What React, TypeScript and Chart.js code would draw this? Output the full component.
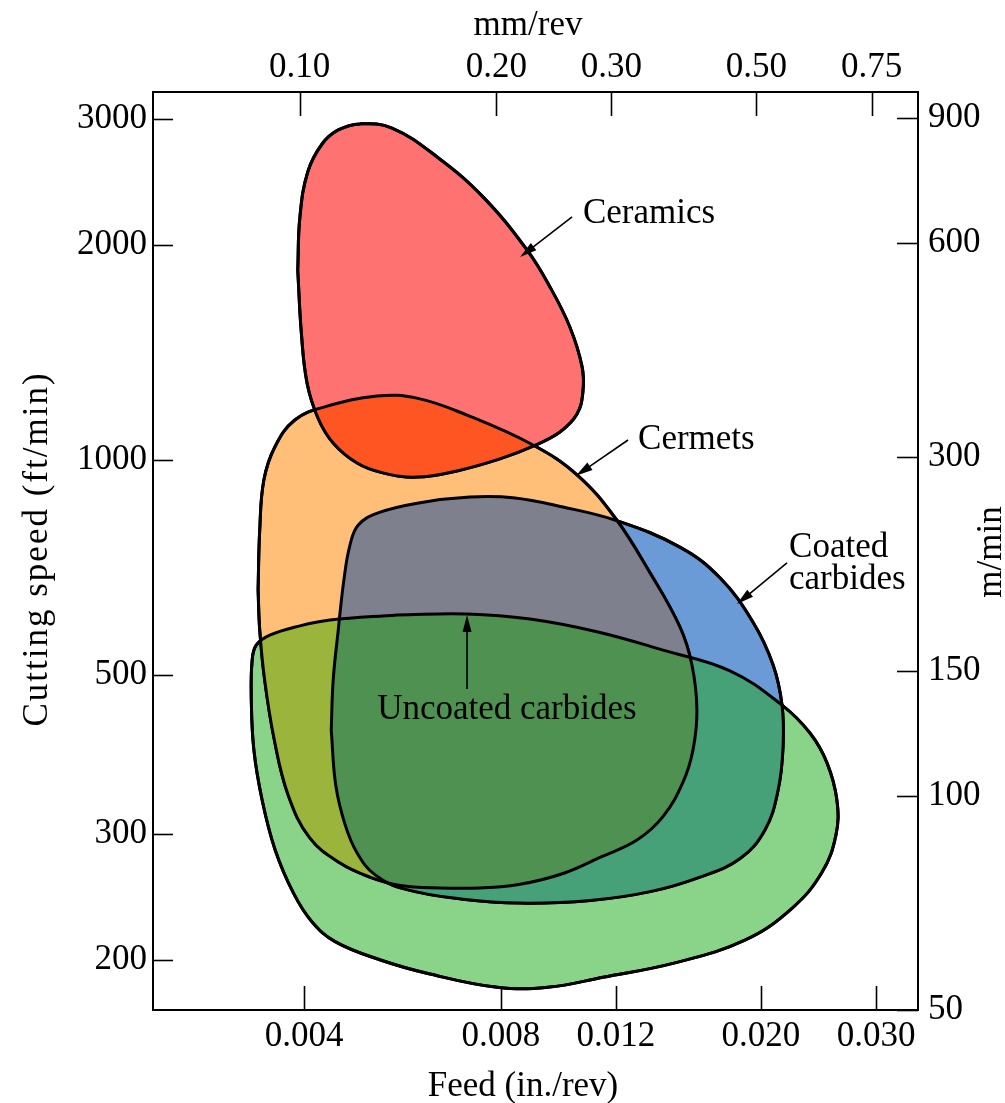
import React, { useEffect, useRef } from 'react';
import { Chart, registerables } from 'chart.js';

Chart.register(...registerables);

// ---------- axis ticks ----------
const feedTicks = [0.004, 0.008, 0.012, 0.02, 0.03];
const feedTickLabels = ['0.004', '0.008', '0.012', '0.020', '0.030'];
const mmTicks = [0.1, 0.2, 0.3, 0.5, 0.75];
const mmTickLabels = ['0.10', '0.20', '0.30', '0.50', '0.75'];
const speedTicks = [200, 300, 500, 1000, 2000, 3000];
const speedTickLabels = ['200', '300', '500', '1000', '2000', '3000'];
const mminTicks = [50, 100, 150, 300, 600, 900];
const mminTickLabels = ['50', '100', '150', '300', '600', '900'];

// ---------- axis ranges ----------
const feedRange = [0.002348, 0.03478]; // in./rev
const IN_TO_MM = 25.4;
const speedRange = [170.1, 3269]; // ft/min
const mminRange = [50, 979]; // m/min

// ---------- region outlines: [feed (in./rev), cutting speed (ft/min)] ----------
const ceramics: [number, number][] = [
  [0.00391, 1843], [0.00394, 2186], [0.00405, 2527], [0.00426, 2765], [0.00451, 2893],
  [0.00487, 2950], [0.00545, 2911], [0.00639, 2652], [0.00751, 2332], [0.00877, 1966],
  [0.00951, 1745], [0.0102, 1534], [0.01065, 1349], [0.01068, 1244], [0.01046, 1159],
  [0.00985, 1094], [0.00896, 1045], [0.00797, 1003], [0.00685, 965], [0.00595, 946],
  [0.00528, 959], [0.00482, 990], [0.00443, 1056], [0.0042, 1144], [0.00404, 1281],
  [0.00396, 1505],
];
const cermets: [number, number][] = [
  [0.0034, 658], [0.00342, 798], [0.00347, 937], [0.00361, 1044], [0.00387, 1137],
  [0.0043, 1186], [0.00517, 1228], [0.00595, 1220], [0.0071, 1155], [0.00896, 1049],
  [0.01046, 953], [0.01196, 830], [0.01353, 695], [0.01503, 584], [0.01568, 517],
  [0.01596, 447], [0.01574, 393], [0.01519, 354], [0.01416, 317], [0.01292, 294],
  [0.01134, 278], [0.00996, 264], [0.00856, 255], [0.00743, 252], [0.00645, 252],
  [0.00561, 254], [0.00504, 261], [0.00454, 273], [0.00408, 296], [0.00378, 340],
  [0.0036, 406], [0.00348, 492], [0.00342, 578],
];
const coatedCarbides: [number, number][] = [
  [0.0044, 419], [0.00443, 492], [0.00451, 578], [0.0046, 679], [0.0047, 760],
  [0.00484, 811], [0.00519, 843], [0.00602, 871], [0.00717, 887], [0.00835, 885],
  [0.00996, 859], [0.01204, 822], [0.01503, 755], [0.01731, 684], [0.01945, 593],
  [0.02087, 517], [0.02154, 454], [0.02162, 397], [0.02124, 345], [0.02029, 304],
  [0.01858, 277], [0.01613, 261], [0.01353, 249], [0.01095, 242], [0.00856, 240],
  [0.007, 243], [0.00571, 251], [0.00513, 263], [0.00482, 282], [0.00462, 309],
  [0.00447, 351],
];
const uncoatedCarbides: [number, number][] = [
  [0.00555, 607], [0.0071, 609], [0.00886, 599], [0.01122, 575], [0.01416, 542],
  [0.01793, 507], [0.02154, 454], [0.02377, 415], [0.02524, 377], [0.02614, 334],
  [0.02605, 299], [0.0248, 265], [0.02231, 236], [0.0189, 213], [0.01477, 198],
  [0.01146, 189], [0.00944, 183], [0.00789, 183], [0.00623, 191], [0.00522, 200],
  [0.00446, 212], [0.00411, 226], [0.00385, 248], [0.00361, 285], [0.00345, 334],
  [0.00335, 393], [0.00332, 461], [0.00333, 525], [0.00338, 551], [0.00355, 569],
  [0.00394, 586], [0.00438, 597],
];

const regionNames = ['Ceramics', 'Cermets', 'Coated carbides', 'Uncoated carbides'];
const regions = [ceramics, cermets, coatedCarbides, uncoatedCarbides];
const regionColors = ['#FF7272', '#FFBF78', '#6B9BD6', '#8AD48A'];
// overlapping areas (dataset indices) and their colours
const overlapSets = [[0, 1], [1, 2], [1, 3], [2, 3], [1, 2, 3]];
const overlapColors = ['#FF5523', '#7E808E', '#9BB43C', '#46A078', '#4E9150'];

// ---------- annotations (data coordinates) ----------
const labelLines = [['Ceramics'], ['Cermets'], ['Coated', 'carbides'], ['Uncoated carbides']];
const labelAnchors: [number, number][] = [[0.01068, 2144], [0.01297, 1036], [0.02208, 731.5], [0.00817, 434]];
const labelAligns = ['left', 'left', 'left', 'center'];
const arrowTails: [number, number][] = [[0.01028, 2186], [0.01252, 1066], [0.02192, 717.5], [0.0071, 478]];
const arrowTips: [number, number][] = [[0.00856, 1922], [0.01042, 950], [0.01838, 628.5], [0.0071, 607]];

const FONT = "'Liberation Serif', 'Times New Roman', serif";
const FONT_SIZE = 35;

function logAxis(axis: string, position: string, range: number[], ticks: number[], labels: string[], padding: number, fit: (s: any) => void) {
  return {
    type: 'logarithmic',
    axis,
    position,
    min: range[0],
    max: range[1],
    bounds: 'data',
    grid: { display: false, drawOnChartArea: false, drawTicks: false },
    border: { display: true, color: '#000', width: 2 },
    title: { display: false },
    ticks: {
      autoSkip: false,
      maxRotation: 0,
      minRotation: 0,
      padding,
      color: '#000',
      font: { family: FONT, size: FONT_SIZE },
      callback: (_v: any, i: number) => labels[i] ?? '',
    },
    afterBuildTicks: (s: any) => {
      s.ticks = ticks.map((value) => ({ value }));
    },
    afterFit: fit,
  };
}

const overlapPlugin = {
  id: 'overlapPlugin',
  afterDatasetsDraw(chart: any) {
    const ctx = chart.ctx;
    const a = chart.chartArea;
    const lines = chart.data.datasets.map((_: any, i: number) => chart.getDatasetMeta(i).dataset);
    ctx.save();
    ctx.beginPath();
    ctx.rect(a.left, a.top, a.right - a.left, a.bottom - a.top);
    ctx.clip();
    overlapSets.forEach((set, k) => {
      ctx.save();
      set.slice(0, -1).forEach((i) => {
        ctx.beginPath();
        lines[i].path(ctx);
        ctx.closePath();
        ctx.clip();
      });
      ctx.beginPath();
      lines[set[set.length - 1]].path(ctx);
      ctx.closePath();
      ctx.fillStyle = overlapColors[k];
      ctx.fill();
      ctx.restore();
    });
    ctx.strokeStyle = '#000';
    ctx.lineWidth = 3;
    ctx.lineJoin = 'round';
    lines.forEach((l: any) => {
      ctx.beginPath();
      l.path(ctx);
      ctx.closePath();
      ctx.stroke();
    });
    ctx.restore();
  },
};

function drawArrow(ctx: CanvasRenderingContext2D, x1: number, y1: number, x2: number, y2: number) {
  const ang = Math.atan2(y2 - y1, x2 - x1);
  const L = 17;
  const W = 4.5;
  const bx = x2 - L * Math.cos(ang);
  const by = y2 - L * Math.sin(ang);
  ctx.beginPath();
  ctx.moveTo(x1, y1);
  ctx.lineTo(bx + 2 * Math.cos(ang), by + 2 * Math.sin(ang));
  ctx.stroke();
  ctx.beginPath();
  ctx.moveTo(x2, y2);
  ctx.lineTo(bx + W * Math.sin(ang), by - W * Math.cos(ang));
  ctx.lineTo(bx - W * Math.sin(ang), by + W * Math.cos(ang));
  ctx.closePath();
  ctx.fill();
}

const annotationPlugin = {
  id: 'annotationPlugin',
  afterDatasetsDraw(chart: any) {
    const ctx = chart.ctx;
    const xs = chart.scales.x;
    const ys = chart.scales.y;
    ctx.save();
    ctx.fillStyle = '#000';
    ctx.strokeStyle = '#000';
    ctx.lineWidth = 1.6;
    ctx.font = `${FONT_SIZE}px ${FONT}`;
    ctx.textBaseline = 'alphabetic';
    labelLines.forEach((lines, i) => {
      const x = xs.getPixelForValue(labelAnchors[i][0]);
      const y = ys.getPixelForValue(labelAnchors[i][1]);
      ctx.textAlign = labelAligns[i];
      lines.forEach((t, j) => ctx.fillText(t, x, y + j * 32));
      drawArrow(
        ctx,
        xs.getPixelForValue(arrowTails[i][0]),
        ys.getPixelForValue(arrowTails[i][1]),
        xs.getPixelForValue(arrowTips[i][0]),
        ys.getPixelForValue(arrowTips[i][1])
      );
    });
    ctx.restore();
  },
};

const frameTickPlugin = {
  id: 'frameTickPlugin',
  afterDraw(chart: any) {
    const ctx = chart.ctx;
    const a = chart.chartArea;
    ctx.save();
    ctx.strokeStyle = '#000';
    ctx.lineWidth = 1.6;
    const sets: [string, number][] = [['x', 24], ['xTop', 24], ['y', 20], ['yRight', 21]];
    sets.forEach(([id, len]) => {
      const s = chart.scales[id];
      s.ticks.forEach((t: any) => {
        const p = Math.round(s.getPixelForValue(t.value)) + 0.5;
        ctx.beginPath();
        if (id === 'x') { ctx.moveTo(p, a.bottom); ctx.lineTo(p, a.bottom - len); }
        if (id === 'xTop') { ctx.moveTo(p, a.top); ctx.lineTo(p, a.top + len); }
        if (id === 'y') { ctx.moveTo(a.left, p); ctx.lineTo(a.left + len, p); }
        if (id === 'yRight') { ctx.moveTo(a.right, p); ctx.lineTo(a.right - len, p); }
        ctx.stroke();
      });
    });
    ctx.restore();
  },
};

const axisTitlePlugin = {
  id: 'axisTitlePlugin',
  afterDraw(chart: any) {
    const ctx = chart.ctx;
    ctx.save();
    ctx.fillStyle = '#000';
    ctx.font = `${FONT_SIZE}px ${FONT}`;
    ctx.textAlign = 'center';
    ctx.textBaseline = 'alphabetic';
    ctx.fillText('mm/rev', 528, 35);
    ctx.fillText('Feed (in./rev)', 523, 1096);
    ctx.save();
    ctx.translate(47, 549);
    ctx.rotate(-Math.PI / 2);
    (ctx as any).letterSpacing = '2px';
    ctx.fillText('Cutting speed (ft/min)', 0, 0);
    ctx.restore();
    ctx.save();
    ctx.translate(1001, 552);
    ctx.rotate(-Math.PI / 2);
    ctx.fillText('m/min', 0, 0);
    ctx.restore();
    ctx.restore();
  },
};

export default function App() {
  const ref = useRef<HTMLCanvasElement>(null);

  useEffect(() => {
    const canvas = ref.current;
    if (!canvas) return;
    const datasets = regions.map((pts, i) => ({
      label: regionNames[i],
      data: pts.concat([pts[0]]).map(([x, y]) => ({ x, y })),
      showLine: true,
      fill: 'shape',
      backgroundColor: regionColors[i],
      borderColor: '#000',
      borderWidth: 3,
      pointRadius: 0,
      pointHoverRadius: 0,
      tension: 0.4,
      xAxisID: 'x',
      yAxisID: 'y',
    }));
    const chart = new Chart(canvas, {
      type: 'scatter',
      data: { datasets } as any,
      options: {
        animation: false,
        responsive: true,
        maintainAspectRatio: false,
        events: [],
        layout: { padding: 0 },
        plugins: {
          legend: { display: false },
          tooltip: { enabled: false },
          title: { display: false },
        },
        scales: {
          x: logAxis('x', 'bottom', feedRange, feedTicks, feedTickLabels, 6, (s) => { s.height = 93; }),
          xTop: logAxis('x', 'top', [feedRange[0] * IN_TO_MM, feedRange[1] * IN_TO_MM], mmTicks, mmTickLabels, 3, (s) => { s.height = 92; }),
          y: logAxis('y', 'left', speedRange, speedTicks, speedTickLabels, 6, (s) => { s.width = 153; }),
          yRight: logAxis('y', 'right', mminRange, mminTicks, mminTickLabels, 10, (s) => { s.width = 87; }),
        } as any,
      },
      plugins: [overlapPlugin, annotationPlugin, frameTickPlugin, axisTitlePlugin],
    } as any);
    return () => chart.destroy();
  }, []);

  return (
    <div style={{ position: 'absolute', left: 0, top: 0, width: 1005, height: 1103, background: '#fff' }}>
      <canvas ref={ref} />
    </div>
  );
}
